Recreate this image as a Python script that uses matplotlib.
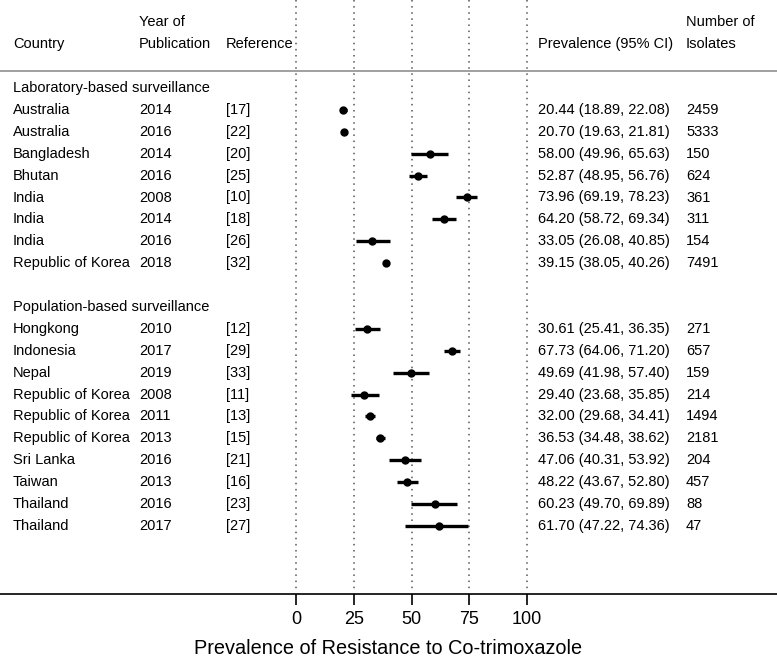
import matplotlib.pyplot as plt
from matplotlib.transforms import blended_transform_factory

plt.rcParams['font.family'] = ['Liberation Sans', 'DejaVu Sans']

groups = ["Laboratory-based surveillance", "Population-based surveillance"]

countries = ["Australia", "Australia", "Bangladesh", "Bhutan", "India", "India", "India",
             "Republic of Korea",
             "Hongkong", "Indonesia", "Nepal", "Republic of Korea", "Republic of Korea",
             "Republic of Korea", "Sri Lanka", "Taiwan", "Thailand", "Thailand"]
years = [2014, 2016, 2014, 2016, 2008, 2014, 2016, 2018,
         2010, 2017, 2019, 2008, 2011, 2013, 2016, 2013, 2016, 2017]
refs = ["[17]", "[22]", "[20]", "[25]", "[10]", "[18]", "[26]", "[32]",
        "[12]", "[29]", "[33]", "[11]", "[13]", "[15]", "[21]", "[16]", "[23]", "[27]"]
prev = [20.44, 20.70, 58.00, 52.87, 73.96, 64.20, 33.05, 39.15,
        30.61, 67.73, 49.69, 29.40, 32.00, 36.53, 47.06, 48.22, 60.23, 61.70]
lo = [18.89, 19.63, 49.96, 48.95, 69.19, 58.72, 26.08, 38.05,
      25.41, 64.06, 41.98, 23.68, 29.68, 34.48, 40.31, 43.67, 49.70, 47.22]
hi = [22.08, 21.81, 65.63, 56.76, 78.23, 69.34, 40.85, 40.26,
      36.35, 71.20, 57.40, 35.85, 34.41, 38.62, 53.92, 52.80, 69.89, 74.36]
isolates = [2459, 5333, 150, 624, 361, 311, 154, 7491,
            271, 657, 159, 214, 1494, 2181, 204, 457, 88, 47]
n_lab = 8

# row positions: group header at 0, studies below, a blank row between groups
rows = list(range(1, n_lab + 1)) + list(range(n_lab + 3, n_lab + 3 + len(countries) - n_lab))
group_rows = [0, n_lab + 2]

W, H = 777, 659
fig = plt.figure(figsize=(W / 100, H / 100), dpi=100)
ax = fig.add_axes([0, 1 - 594 / H, 1, 594 / H])

px_per_unit = 2.31
x0 = 296
ax.set_xlim(-x0 / px_per_unit, (W - x0) / px_per_unit)
row_h = 21.9
ax.set_ylim((594 - 88) / row_h, -88 / row_h)

for v in [0, 25, 50, 75, 100]:
    ax.plot([v, v], [-88 / row_h, (590 - 88) / row_h], color='#555555',
            linestyle=(0, (1, 3)), linewidth=1.1, zorder=1)

for r, p, l, h in zip(rows, prev, lo, hi):
    ax.plot([l, h], [r, r], color='black', linewidth=2.4, solid_capstyle='butt', zorder=3)
    ax.plot(p, r, 'o', color='black', markersize=5, zorder=4)

def fx(px):
    return px / W

bt = blended_transform_factory(ax.transAxes, ax.transData)
fs = 10.5
cols = [13, 139, 226, 538, 686]
for r, c, y, ref, p, l, h, n in zip(rows, countries, years, refs, prev, lo, hi, isolates):
    cells = [c, str(y), ref, f"{p:.2f} ({l:.2f}, {h:.2f})", str(n)]
    for cx, t in zip(cols, cells):
        ax.text(fx(cx), r, t, transform=bt, fontsize=fs, va='center')

for g, r in zip(groups, group_rows):
    ax.text(fx(13), r, g, transform=bt, fontsize=fs, va='center')

hy1 = (44 - 88) / row_h
hy0 = (22 - 88) / row_h
ax.text(fx(13), hy1, "Country", transform=bt, fontsize=fs, va='center')
ax.text(fx(139), hy0, "Year of", transform=bt, fontsize=fs, va='center')
ax.text(fx(139), hy1, "Publication", transform=bt, fontsize=fs, va='center')
ax.text(fx(226), hy1, "Reference", transform=bt, fontsize=fs, va='center')
ax.text(fx(538), hy1, "Prevalence (95% CI)", transform=bt, fontsize=fs, va='center')
ax.text(fx(686), hy0, "Number of", transform=bt, fontsize=fs, va='center')
ax.text(fx(686), hy1, "Isolates", transform=bt, fontsize=fs, va='center')
ax.axhline((71 - 88) / row_h, color='#a0a0a0', linewidth=1.4)

for s in ['top', 'left', 'right']:
    ax.spines[s].set_visible(False)
ax.spines['bottom'].set_linewidth(1.2)
ax.set_yticks([])
ax.set_xticks([0, 25, 50, 75, 100])
ax.tick_params(axis='x', length=8, width=1.2, labelsize=13, pad=4)
ax.set_xlabel("Prevalence of Resistance to Co-trimoxazole", fontsize=14.3, labelpad=8)

fig.savefig("out.png", dpi=100)
